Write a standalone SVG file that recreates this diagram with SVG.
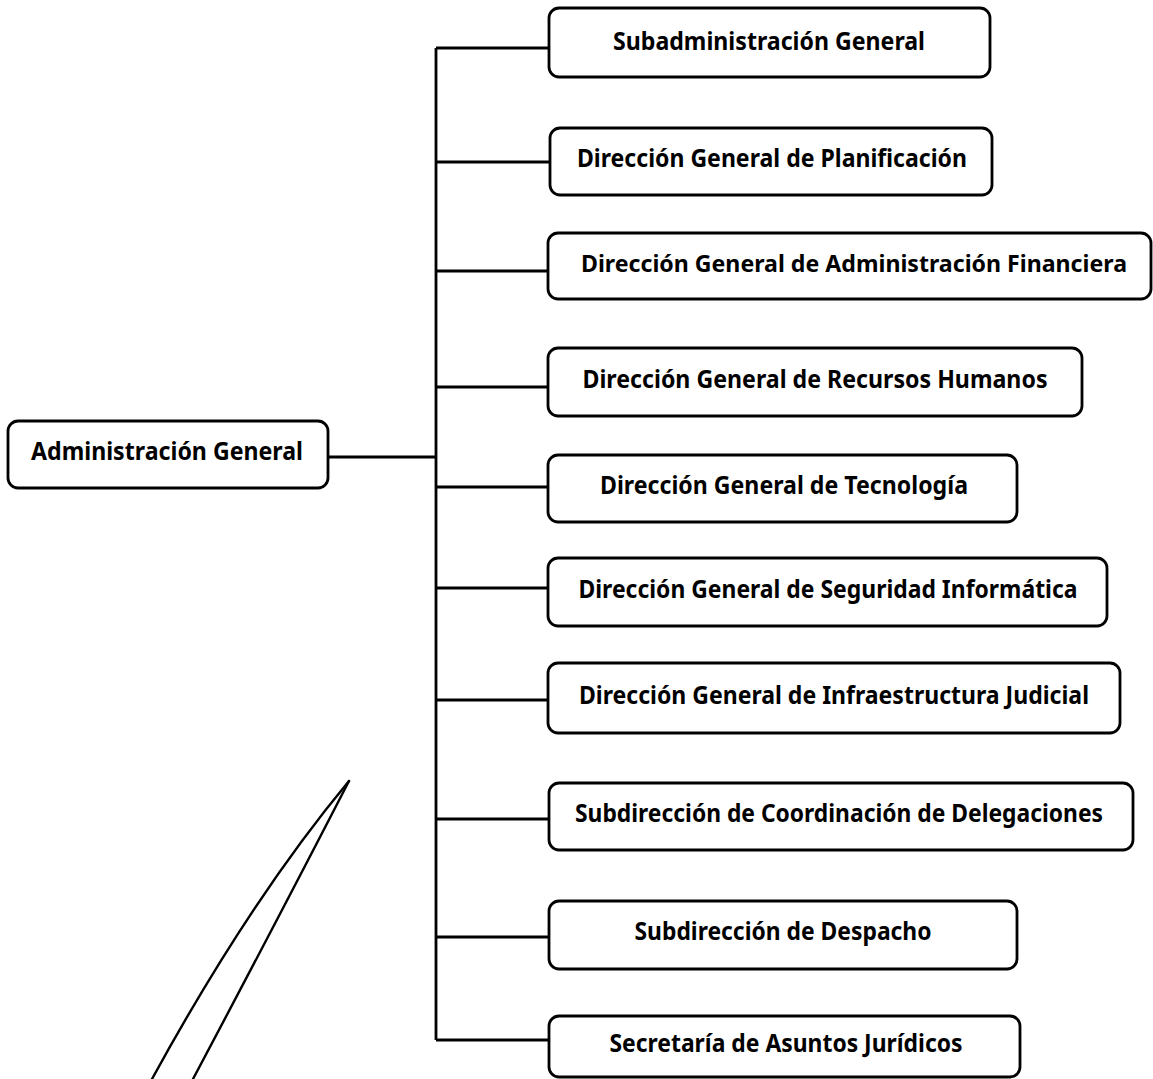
<svg xmlns="http://www.w3.org/2000/svg" width="1153" height="1079" viewBox="0 0 1153 1079">
<style>
.box{fill:#fff;stroke:#000;stroke-width:2.8}
.lbl{font-family:"Noto Sans","DejaVu Sans",sans-serif;font-weight:bold;font-size:25px;fill:#000;text-anchor:middle}
.con{fill:none;stroke:#000;stroke-width:2.8}
.pen{fill:none;stroke:#000;stroke-width:2.4;stroke-linecap:round}
</style>
<rect width="1153" height="1079" fill="#fff"/>
<g id="connectors">
<path class="con" d="M328,457 H436 M436,48 V1040"/>
<path class="con" d="M436,48 H549 M436,162 H550 M436,271 H548 M436,387 H548 M436,487 H548 M436,588 H548 M436,700 H548 M436,819 H549 M436,937 H549 M436,1040 H549"/>
</g>
<g id="n0"><rect class="box" x="8" y="421" width="320" height="67" rx="10"/><text class="lbl" x="167" y="460" textLength="272" lengthAdjust="spacingAndGlyphs">Administración General</text></g>
<g id="n1"><rect class="box" x="549" y="8" width="441" height="69" rx="10"/><text class="lbl" x="769" y="50" textLength="312" lengthAdjust="spacingAndGlyphs">Subadministración General</text></g>
<g id="n2"><rect class="box" x="550" y="128" width="442" height="67" rx="10"/><text class="lbl" x="772" y="167" textLength="390" lengthAdjust="spacingAndGlyphs">Dirección General de Planificación</text></g>
<g id="n3"><rect class="box" x="548" y="233" width="603" height="66" rx="10"/><text class="lbl" x="854" y="272" style="font-size:23px" textLength="546" lengthAdjust="spacingAndGlyphs">Dirección General de Administración Financiera</text></g>
<g id="n4"><rect class="box" x="548" y="348" width="534" height="68" rx="10"/><text class="lbl" x="815" y="388" textLength="465" lengthAdjust="spacingAndGlyphs">Dirección General de Recursos Humanos</text></g>
<g id="n5"><rect class="box" x="548" y="455" width="469" height="67" rx="10"/><text class="lbl" x="784" y="494" textLength="368" lengthAdjust="spacingAndGlyphs">Dirección General de Tecnología</text></g>
<g id="n6"><rect class="box" x="548" y="558" width="559" height="68" rx="10"/><text class="lbl" x="828" y="598" textLength="499" lengthAdjust="spacingAndGlyphs">Dirección General de Seguridad Informática</text></g>
<g id="n7"><rect class="box" x="548" y="663" width="572" height="70" rx="10"/><text class="lbl" x="834" y="704" textLength="510" lengthAdjust="spacingAndGlyphs">Dirección General de Infraestructura Judicial</text></g>
<g id="n8"><rect class="box" x="549" y="783" width="584" height="67" rx="10"/><text class="lbl" x="839" y="822" textLength="528" lengthAdjust="spacingAndGlyphs">Subdirección de Coordinación de Delegaciones</text></g>
<g id="n9"><rect class="box" x="549" y="901" width="468" height="68" rx="10"/><text class="lbl" x="783" y="940" textLength="297" lengthAdjust="spacingAndGlyphs">Subdirección de Despacho</text></g>
<g id="n10"><rect class="box" x="549" y="1016" width="471" height="61" rx="10"/><text class="lbl" x="786" y="1052" textLength="353" lengthAdjust="spacingAndGlyphs">Secretaría de Asuntos Jurídicos</text></g>
<g id="pen">
<path class="pen" d="M349,781 Q250,900 152,1079"/>
<path class="pen" d="M349,781 Q280,915 193,1079"/>
</g>
</svg>
